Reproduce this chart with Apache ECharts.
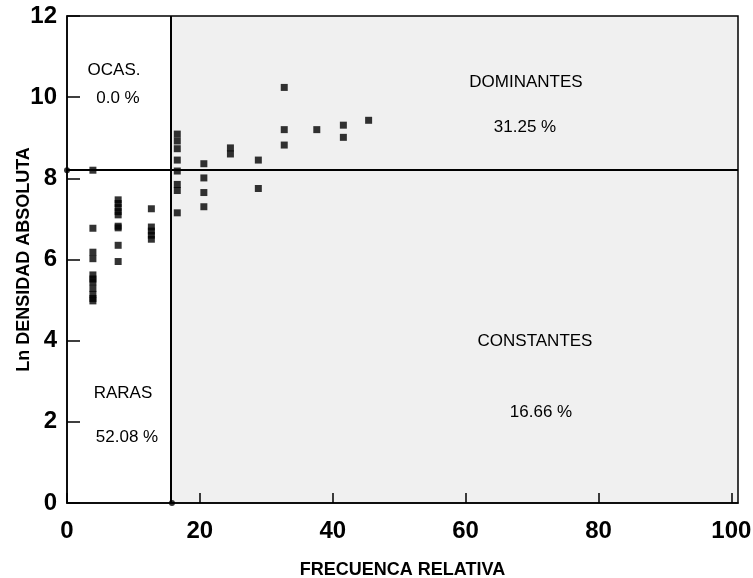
<!DOCTYPE html>
<html>
<head>
<meta charset="utf-8">
<script src="https://cdn.jsdelivr.net/npm/echarts@6/dist/echarts.min.js"></script>
<style>
html,body{margin:0;padding:0;background:#fff;}
#c{width:753px;height:578px;}
</style>
</head>
<body>
<div id="c"></div>
<script>
// Relative frequency (x) of each column of points
const freq = [3.9, 7.7, 12.7, 16.6, 20.6, 24.6, 28.8, 32.7, 37.6, 41.6, 45.4];
// Ln absolute density values per column
const lnDensity = [
  [8.2, 6.77, 6.18, 6.02, 5.62, 5.52, 5.45, 5.29, 5.14, 5.04, 4.98],
  [7.47, 7.38, 7.28, 7.18, 7.1, 6.82, 6.78, 6.35, 5.95],
  [7.25, 6.8, 6.7, 6.6, 6.5],
  [9.09, 8.92, 8.73, 8.45, 8.18, 7.85, 7.7, 7.15],
  [8.36, 8.01, 7.65, 7.3],
  [8.75, 8.6],
  [8.45, 7.75],
  [10.24, 9.2, 8.82],
  [9.2],
  [9.31, 9.01],
  [9.43]
];
// Threshold values (mean frequency, mean ln density)
const thresholdX = 15.6;
const thresholdY = 8.22;
const thresholdDots = [[0, 8.2], [15.8, 0]];
const xTicks = [0, 20, 40, 60, 80, 100];
const quadrantLabels = ['OCAS.', '0.0 %', 'DOMINANTES', '31.25 %', 'CONSTANTES', '16.66 %', 'RARAS', '52.08 %'];

const points = [];
freq.forEach((f, i) => lnDensity[i].forEach(v => points.push([f, v])));

const chart = echarts.init(document.getElementById('c'));
const textFont = '17px "Liberation Sans", Arial, sans-serif';
const txtPos = [[114, 70], [118, 98], [526, 82], [525, 127], [535, 341], [541, 412], [123, 393], [127, 437]];

chart.setOption({
  animation: false,
  backgroundColor: '#fff',
  grid: {left: 67, right: 15, top: 16, bottom: 75, outerBoundsMode: 'none', containLabel: false,
         show: true, borderColor: '#000', borderWidth: 1.5, backgroundColor: 'transparent'},
  xAxis: {
    type: 'value', min: 0, max: 101,
    name: 'FRECUENCA RELATIVA', nameLocation: 'middle', nameGap: 58, nameMoveOverlap: false,
    nameTextStyle: {fontFamily: 'Liberation Sans, Arial', fontWeight: 'bold', fontSize: 18, color: '#000'},
    axisLine: {show: true, lineStyle: {color: '#000', width: 1.5}},
    axisTick: {show: true, inside: true, length: 10, customValues: xTicks, lineStyle: {color: '#000', width: 1.5}},
    axisLabel: {customValues: xTicks, margin: 16, fontFamily: 'Liberation Sans, Arial', fontWeight: 'bold', fontSize: 24, color: '#000'},
    splitLine: {show: false}
  },
  yAxis: {
    type: 'value', min: 0, max: 12, interval: 2,
    name: 'Ln DENSIDAD ABSOLUTA', nameLocation: 'middle', nameGap: 34, nameRotate: 90, nameMoveOverlap: false,
    nameTextStyle: {fontFamily: 'Liberation Sans, Arial', fontWeight: 'bold', fontSize: 18, color: '#000'},
    axisLine: {show: true, lineStyle: {color: '#000', width: 1.5}},
    axisTick: {show: true, inside: true, length: 13, lineStyle: {color: '#000', width: 1.5}},
    axisLabel: {margin: 10, fontFamily: 'Liberation Sans, Arial', fontWeight: 'bold', fontSize: 24, color: '#000'},
    splitLine: {show: false}
  },
  series: [
    {
      type: 'scatter', data: points, symbol: 'rect', symbolSize: 7,
      itemStyle: {color: '#000'}, silent: true, z: 5,
      markArea: {
        silent: true,
        itemStyle: {color: 'rgba(0,0,0,0.06)'},
        data: [[{xAxis: thresholdX, yAxis: 0}, {xAxis: 101, yAxis: 12}]]
      },
      markLine: {
        silent: true, symbol: 'none', label: {show: false},
        lineStyle: {color: '#000', width: 2, type: 'solid'},
        data: [{xAxis: thresholdX}, {yAxis: thresholdY}]
      }
    },
    {
      type: 'scatter', data: thresholdDots, symbol: 'circle', symbolSize: 6,
      itemStyle: {color: '#000'}, silent: true, z: 6
    }
  ],
  graphic: quadrantLabels.map((t, i) => ({
    type: 'text', x: txtPos[i][0], y: txtPos[i][1], z: 10,
    style: {text: t, font: textFont, fill: '#000', align: 'center', verticalAlign: 'middle'}
  }))
});
</script>
</body>
</html>
